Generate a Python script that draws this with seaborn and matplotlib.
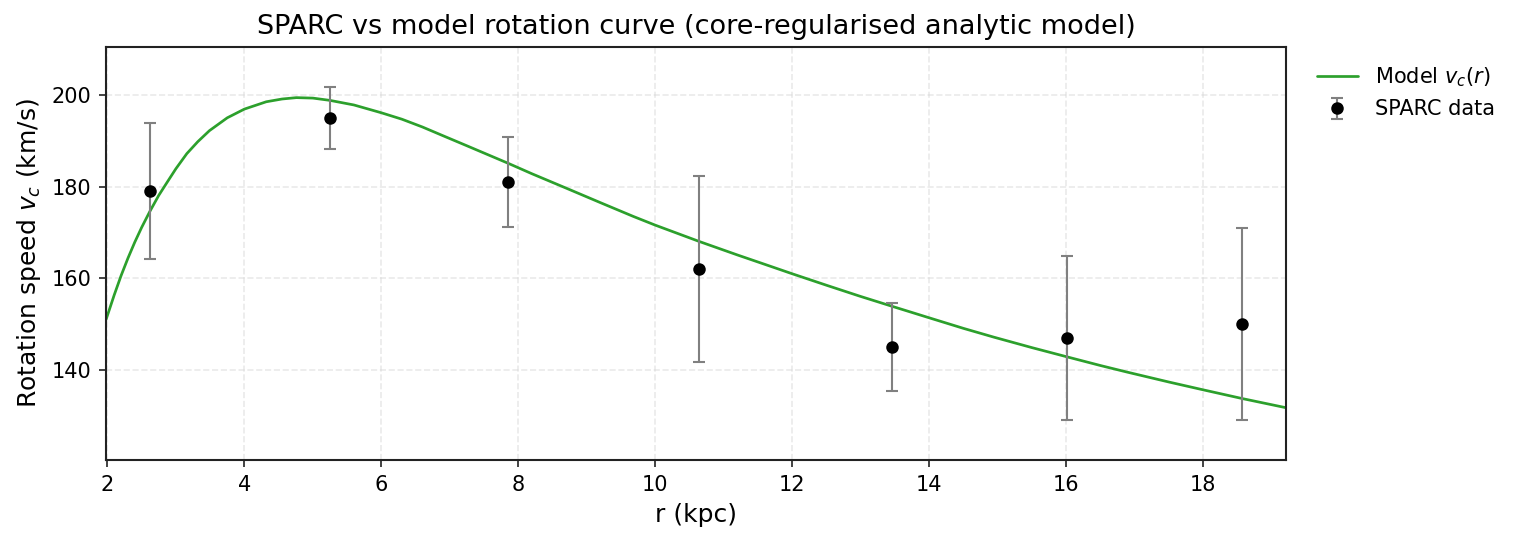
import numpy as np
import pandas as pd
import matplotlib
matplotlib.use("Agg")
import matplotlib.pyplot as plt
import seaborn as sns

r_obs = [2.62, 5.25, 7.85, 10.64, 13.46, 16.01, 18.57]
v_obs = [179.0, 195.0, 181.0, 162.0, 145.0, 147.0, 150.0]
v_err = [14.8, 6.8, 9.8, 20.3, 9.6, 17.8, 20.9]

# model curve v_c(r), sampled from the plotted line
r_model = [1.98, 2.10, 2.20, 2.30, 2.40, 2.50, 2.62, 2.75, 2.87, 3.00, 3.16,
           3.32, 3.49, 3.75, 4.00, 4.32, 4.55, 4.76, 5.00, 5.25, 5.60, 6.00,
           6.30, 6.60, 6.90, 7.25, 7.55, 7.85, 8.20, 8.71, 9.20, 9.68, 10.00,
           10.65, 11.20, 11.63, 12.00, 12.50, 12.99, 13.46, 14.00, 14.50,
           14.94, 15.50, 16.01, 16.50, 16.88, 17.50, 18.00, 18.57, 19.21]
v_model = [151.0, 156.4, 160.6, 164.4, 167.9, 171.1, 174.6, 178.1, 180.9,
           183.9, 187.2, 189.8, 192.2, 195.0, 196.9, 198.5, 199.1, 199.4,
           199.3, 198.8, 197.8, 196.1, 194.7, 193.0, 191.1, 188.9, 187.0,
           185.1, 182.8, 179.6, 176.5, 173.5, 171.6, 168.0, 165.1, 162.9,
           161.0, 158.5, 156.1, 153.9, 151.4, 149.1, 147.2, 144.9, 142.9,
           141.0, 139.6, 137.4, 135.7, 133.8, 131.8]

model = pd.DataFrame({"r": r_model, "v": v_model})

sns.set_style("ticks")
plt.rcParams["font.family"] = ["DejaVu Sans"]
plt.rcParams["text.color"] = "black"
plt.rcParams["axes.labelcolor"] = "black"

fig, ax = plt.subplots(figsize=(1517 / 150, 542 / 150), dpi=150)
fig.subplots_adjust(left=0.0699, right=0.8477, top=0.9138, bottom=0.1513)

sns.lineplot(data=model, x="r", y="v", ax=ax, color="#2ca02c", lw=1.3,
             label=r"Model $v_c(r)$")
ax.errorbar(r_obs, v_obs, yerr=v_err, fmt="o", color="black", ms=5,
            ecolor="grey", elinewidth=1.0, capsize=3, capthick=1.0,
            label="SPARC data", zorder=3)

ax.set_xlim(1.98, 19.21)
ax.set_ylim(120.4, 210.5)
ax.set_xticks(np.arange(2, 19, 2))
ax.set_yticks([140, 160, 180, 200])
ax.grid(True, ls="--", lw=0.8, color="#d9d9d9", alpha=0.55)
for s in ax.spines.values():
    s.set_color("#222222")
    s.set_linewidth(1.0)
ax.tick_params(labelsize=10, color="#222222", labelcolor="black")

ax.set_xlabel("r (kpc)", fontsize=12)
ax.set_ylabel(r"Rotation speed $v_c$ (km/s)", fontsize=12)
ax.set_title("SPARC vs model rotation curve (core-regularised analytic model)",
             fontsize=13)
ax.legend(loc="upper left", bbox_to_anchor=(1.01, 1.0), frameon=False,
          fontsize=10)

fig.savefig("out.png", dpi=150)
